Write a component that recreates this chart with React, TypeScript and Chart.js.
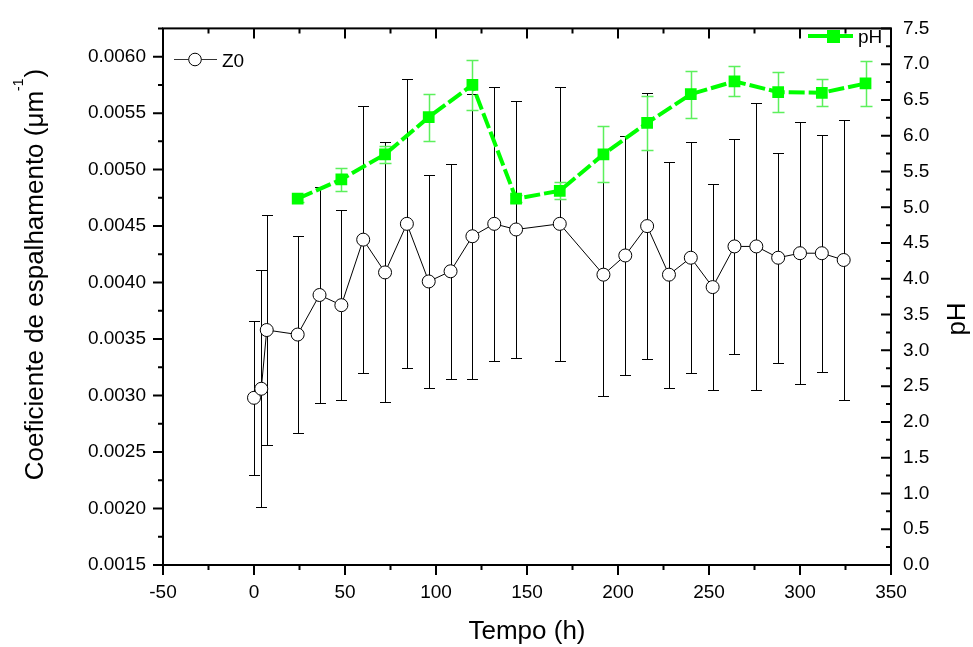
import React, { useEffect, useRef } from "react";
import { Chart, registerables } from "chart.js";

Chart.register(...registerables);

// ---- data ----
const Z0_TIME = [0, 4, 7, 24, 36, 48, 60, 72, 84, 96, 108, 120, 132, 144, 168, 192, 204, 216, 228, 240, 252, 264, 276, 288, 300, 312, 324];
const Z0_VALUE = [0.00298, 0.00306, 0.00358, 0.00354, 0.00389, 0.0038, 0.00438, 0.00409, 0.00452, 0.00401, 0.0041, 0.00441, 0.00452, 0.00447, 0.00452, 0.00407, 0.00424, 0.0045, 0.00407, 0.00422, 0.00396, 0.00432, 0.00432, 0.00422, 0.00426, 0.00426, 0.0042];
const Z0_ERROR = [0.00068, 0.00105, 0.00102, 0.00087, 0.00096, 0.00084, 0.00118, 0.00115, 0.00128, 0.00094, 0.00095, 0.00126, 0.00121, 0.00114, 0.00121, 0.00107, 0.00106, 0.00118, 0.001, 0.00102, 0.00091, 0.00095, 0.00127, 0.00093, 0.00116, 0.00105, 0.00124];

const PH_TIME = [24, 48, 72, 96, 120, 144, 168, 192, 216, 240, 264, 288, 312, 336];
const PH_VALUE = [5.12, 5.39, 5.74, 6.26, 6.71, 5.12, 5.23, 5.74, 6.18, 6.58, 6.76, 6.61, 6.6, 6.73];
const PH_ERROR = [0.05, 0.16, 0.12, 0.33, 0.35, 0.05, 0.12, 0.39, 0.38, 0.33, 0.21, 0.28, 0.19, 0.31];

const X_TICKS = [-50, 0, 50, 100, 150, 200, 250, 300, 350];
const LEFT_TICKS = [0.0015, 0.002, 0.0025, 0.003, 0.0035, 0.004, 0.0045, 0.005, 0.0055, 0.006];
const LEFT_MAX = 0.00625;
const RIGHT_TICKS = [0, 0.5, 1, 1.5, 2, 2.5, 3, 3.5, 4, 4.5, 5, 5.5, 6, 6.5, 7, 7.5];

const Z0_LABEL = "Z0";
const PH_LABEL = "pH";
const X_TITLE = "Tempo (h)";
const Y_TITLE_MAIN = "Coeficiente de espalhamento (\u03bcm";
const Y_TITLE_SUP = "-1";
const Y_TITLE_END = ")";
const Y1_TITLE = "pH";

const FONT = "'Liberation Sans', Arial, Helvetica, sans-serif";
const GREEN = "#00ff00";
const GREEN_ERR = "#5cf05c";

function midpoints(arr: number[], extra?: number): number[] {
  const out: number[] = [];
  for (let i = 0; i < arr.length - 1; i++) out.push((arr[i] + arr[i + 1]) / 2);
  if (extra !== undefined) out.push(extra);
  return out;
}

const errorBarPlugin = {
  id: "errorBars",
  beforeDatasetDraw(chart: any, args: any) {
    const ds: any = chart.data.datasets[args.index];
    if (!ds.errors) return;
    const xs = chart.scales.x;
    const ys = chart.scales[ds.yAxisID];
    const ctx = chart.ctx;
    ctx.save();
    ctx.strokeStyle = ds.errorColor;
    ctx.lineWidth = ds.errorWidth;
    ds.data.forEach((p: any, i: number) => {
      const e = ds.errors[i];
      const x = Math.round(xs.getPixelForValue(p.x)) + 0.5;
      const y1 = Math.round(ys.getPixelForValue(p.y + e)) + 0.5;
      const y2 = Math.round(ys.getPixelForValue(p.y - e)) + 0.5;
      const c = ds.capHalf;
      ctx.beginPath();
      ctx.moveTo(x, y1);
      ctx.lineTo(x, y2);
      ctx.moveTo(x - c, y1);
      ctx.lineTo(x + c, y1);
      ctx.moveTo(x - c, y2);
      ctx.lineTo(x + c, y2);
      ctx.stroke();
    });
    ctx.restore();
  },
};

const framePlugin = {
  id: "frame",
  afterDraw(chart: any) {
    const ctx = chart.ctx;
    const { left, right, top, bottom } = chart.chartArea;
    const xs = chart.scales.x;
    const yl = chart.scales.y;
    const yr = chart.scales.y1;
    ctx.save();
    ctx.strokeStyle = "#000";
    ctx.lineWidth = 2;
    ctx.strokeRect(left, top, right - left, bottom - top);

    ctx.beginPath();
    const xMinor = midpoints(X_TICKS);
    X_TICKS.forEach((v) => {
      const px = xs.getPixelForValue(v);
      ctx.moveTo(px, bottom);
      ctx.lineTo(px, bottom + 10);
      ctx.moveTo(px, top);
      ctx.lineTo(px, top + 10);
    });
    xMinor.forEach((v) => {
      const px = xs.getPixelForValue(v);
      ctx.moveTo(px, bottom);
      ctx.lineTo(px, bottom + 5);
      ctx.moveTo(px, top);
      ctx.lineTo(px, top + 5);
    });
    LEFT_TICKS.forEach((v) => {
      const py = yl.getPixelForValue(v);
      ctx.moveTo(left - 10, py);
      ctx.lineTo(left, py);
    });
    midpoints(LEFT_TICKS, LEFT_MAX).forEach((v) => {
      const py = yl.getPixelForValue(v);
      ctx.moveTo(left - 5, py);
      ctx.lineTo(left, py);
    });
    RIGHT_TICKS.forEach((v) => {
      const py = yr.getPixelForValue(v);
      ctx.moveTo(right - 10, py);
      ctx.lineTo(right, py);
    });
    midpoints(RIGHT_TICKS).forEach((v) => {
      const py = yr.getPixelForValue(v);
      ctx.moveTo(right - 5, py);
      ctx.lineTo(right, py);
    });
    ctx.stroke();

    // legend Z0
    ctx.lineWidth = 1;
    ctx.strokeStyle = "#333";
    ctx.beginPath();
    ctx.moveTo(174, 59.5);
    ctx.lineTo(217, 59.5);
    ctx.stroke();
    ctx.beginPath();
    ctx.arc(195, 59.5, 6.3, 0, Math.PI * 2);
    ctx.fillStyle = "#fff";
    ctx.fill();
    ctx.strokeStyle = "#000";
    ctx.stroke();
    ctx.fillStyle = "#000";
    ctx.font = `19px ${FONT}`;
    ctx.textAlign = "left";
    ctx.textBaseline = "alphabetic";
    ctx.fillText(Z0_LABEL, 222, 66.5);

    // legend pH
    ctx.strokeStyle = GREEN;
    ctx.lineWidth = 4;
    ctx.beginPath();
    ctx.moveTo(808, 36);
    ctx.lineTo(853, 36);
    ctx.stroke();
    ctx.fillStyle = GREEN;
    ctx.fillRect(827, 30, 13, 13);
    ctx.fillStyle = "#000";
    ctx.fillText(PH_LABEL, 858, 43);

    // x title
    ctx.font = `26px ${FONT}`;
    ctx.textAlign = "center";
    ctx.fillText(X_TITLE, (left + right) / 2, 639);

    // left title (rotated, with superscript)
    ctx.save();
    ctx.translate(43, 275);
    ctx.rotate(-Math.PI / 2);
    ctx.textAlign = "left";
    ctx.font = `26px ${FONT}`;
    const w1 = ctx.measureText(Y_TITLE_MAIN).width;
    const w3 = ctx.measureText(Y_TITLE_END).width;
    ctx.font = `14px ${FONT}`;
    const w2 = ctx.measureText(Y_TITLE_SUP).width;
    const start = -(w1 + w2 + w3) / 2;
    ctx.font = `26px ${FONT}`;
    ctx.fillText(Y_TITLE_MAIN, start, 0);
    ctx.font = `14px ${FONT}`;
    ctx.fillText(Y_TITLE_SUP, start + w1, -20);
    ctx.font = `26px ${FONT}`;
    ctx.fillText(Y_TITLE_END, start + w1 + w2 + 1, 0);
    ctx.restore();

    // right title
    ctx.save();
    ctx.translate(965, 319);
    ctx.rotate(-Math.PI / 2);
    ctx.textAlign = "center";
    ctx.font = `26px ${FONT}`;
    ctx.fillText(Y1_TITLE, 0, 0);
    ctx.restore();

    ctx.restore();
  },
};

export default function App() {
  const ref = useRef<HTMLCanvasElement | null>(null);

  useEffect(() => {
    document.body.style.margin = "0";
    document.body.style.overflow = "hidden";
    const canvas = ref.current;
    if (!canvas) return;

    const tickFont = { family: FONT, size: 19 };

    const chart = new Chart(canvas, {
      type: "line",
      data: {
        datasets: [
          {
            label: PH_LABEL,
            data: PH_TIME.map((t, i) => ({ x: t, y: PH_VALUE[i] })),
            yAxisID: "y1",
            borderColor: GREEN,
            borderWidth: 4,
            borderDash: [16, 4],
            backgroundColor: GREEN,
            pointStyle: "rect",
            pointRadius: 8.3,
            pointBorderWidth: 0,
            pointBackgroundColor: GREEN,
            pointBorderColor: GREEN,
            tension: 0,
            errors: PH_ERROR,
            errorColor: GREEN_ERR,
            errorWidth: 1.5,
            capHalf: 6,
          } as any,
          {
            label: Z0_LABEL,
            data: Z0_TIME.map((t, i) => ({ x: t, y: Z0_VALUE[i] })),
            yAxisID: "y",
            borderColor: "#000",
            borderWidth: 1,
            backgroundColor: "#fff",
            pointStyle: "circle",
            pointRadius: 6.5,
            pointBorderWidth: 1,
            pointBackgroundColor: "#fff",
            pointBorderColor: "#000",
            tension: 0,
            errors: Z0_ERROR,
            errorColor: "#000",
            errorWidth: 1,
            capHalf: 5.5,
          } as any,
        ],
      },
      options: {
        animation: false,
        responsive: false,
        maintainAspectRatio: false,
        devicePixelRatio: 1,
        layout: { padding: { top: 21, left: 0, right: 0, bottom: 0 } },
        plugins: {
          legend: { display: false },
          tooltip: { enabled: false },
        },
        scales: {
          x: {
            type: "linear",
            min: -50,
            max: 350,
            grid: { display: false, drawTicks: false },
            border: { display: false },
            ticks: {
              font: tickFont,
              color: "#000",
              padding: 16,
              maxRotation: 0,
              autoSkip: false,
              callback: (v: any) => String(v),
            },
            afterBuildTicks: (s: any) => {
              s.ticks = X_TICKS.map((v) => ({ value: v }));
            },
            afterFit: (s: any) => {
              s.height = 82;
            },
          },
          y: {
            type: "linear",
            position: "left",
            min: LEFT_TICKS[0],
            max: LEFT_MAX,
            grid: { display: false, drawTicks: false },
            border: { display: false },
            ticks: {
              font: tickFont,
              color: "#000",
              padding: 17,
              autoSkip: false,
              callback: (v: any) => Number(v).toFixed(4),
            },
            afterBuildTicks: (s: any) => {
              s.ticks = LEFT_TICKS.map((v) => ({ value: v }));
            },
            afterFit: (s: any) => {
              s.width = 163;
            },
          },
          y1: {
            type: "linear",
            position: "right",
            min: 0,
            max: 7.5,
            grid: { display: false, drawTicks: false },
            border: { display: false },
            ticks: {
              font: tickFont,
              color: "#000",
              padding: 12,
              autoSkip: false,
              callback: (v: any) => Number(v).toFixed(1),
            },
            afterBuildTicks: (s: any) => {
              s.ticks = RIGHT_TICKS.map((v) => ({ value: v }));
            },
            afterFit: (s: any) => {
              s.width = 82;
            },
          },
        },
      } as any,
      plugins: [errorBarPlugin, framePlugin],
    });

    return () => {
      chart.destroy();
    };
  }, []);

  return (
    <div style={{ width: 973, height: 647, position: "relative" }}>
      <canvas ref={ref} width={973} height={647} style={{ display: "block" }} />
    </div>
  );
}
